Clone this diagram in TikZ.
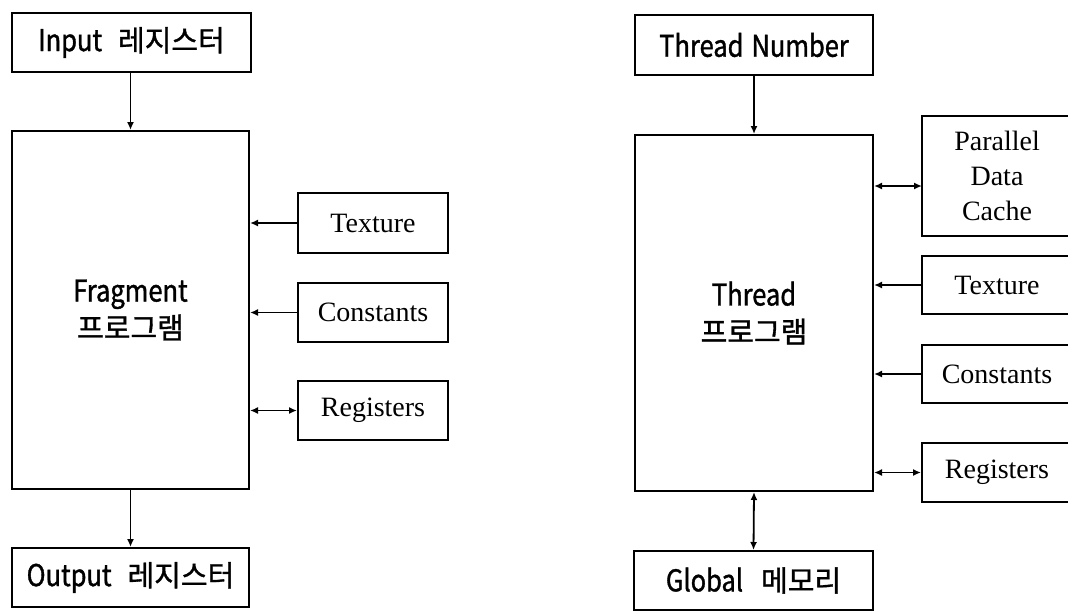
\documentclass[tikz,border=0pt]{standalone}
\usepackage{fontspec}
\setmainfont{Liberation Serif}
\newfontfamily\krfont[FakeBold=1.2]{Noto Sans CJK KR}
\newfontfamily\latfont[FakeStretch=0.85,FakeBold=1.2]{Noto Sans CJK KR}
\newcommand\kor[1]{{\krfont\fontsize{29}{37}\selectfont #1}}
\newcommand\lat[1]{{\latfont\fontsize{30}{37}\selectfont #1}}
\usetikzlibrary{arrows.meta}
\begin{document}
\begin{tikzpicture}[x=1pt,y=-1pt,
  box/.style={draw,line width=2pt,inner sep=0pt,align=center,
    font=\fontsize{28}{35}\selectfont},
  krbox/.style={box,font=\fontsize{29}{37}\selectfont},
  arr/.style={line width=1.8pt,-{Latex[length=8pt,width=7pt]}},
  darr/.style={line width=1.8pt,{Latex[length=8pt,width=7pt]}-{Latex[length=8pt,width=7pt]}}]
\useasboundingbox (0,0) rectangle (1068,611);
\clip (0,0) rectangle (1068,611);
% left
\node[krbox,minimum width=239pt,minimum height=59pt] (inp) at (131.5,42.5) {\lat{Input}\hspace{16pt}\kor{레지스터}};
\node[krbox,minimum width=237pt,minimum height=358pt] (frag) at (130.5,310) {\lat{Fragment}\\\kor{프로그램}};
\node[krbox,minimum width=237pt,minimum height=59pt] (out) at (130.5,577.5) {\lat{Output}\hspace{16pt}\kor{레지스터}};
\node[box,minimum width=150pt,minimum height=60pt] (texL) at (373,223) {Texture};
\node[box,minimum width=150pt,minimum height=59pt] (conL) at (373,312.5) {Constants};
\node[box,minimum width=150pt,minimum height=59pt] (regL) at (373,410.5) {Registers};
\draw[arr] (inp.south -| frag.north) -- (frag.north);
\draw[arr] (frag.south) -- (out.north);
\draw[arr] (texL.west) -- (frag.east |- texL.west);
\draw[arr] (conL.west) -- (frag.east |- conL.west);
\draw[darr] (frag.east |- regL.west) -- (regL.west);
% right
\node[krbox,minimum width=238pt,minimum height=60pt] (tn) at (754,45) {\lat{Thread\hspace{8pt}Number}};
\node[krbox,minimum width=238pt,minimum height=356pt] (thr) at (754,313) {\lat{Thread}\\\kor{프로그램}};
\node[krbox,minimum width=239pt,minimum height=59pt] (glob) at (753.5,580.5) {\lat{Global}\hspace{18pt}\kor{메모리}};
\node[box,minimum width=150pt,minimum height=120pt] (pdc) at (997,176) {Parallel\\Data\\Cache};
\node[box,minimum width=150pt,minimum height=58pt] (texR) at (997,285) {Texture};
\node[box,minimum width=150pt,minimum height=58pt] (conR) at (997,374) {Constants};
\node[box,minimum width=150pt,minimum height=59pt] (regR) at (997,472.5) {Registers};
\coordinate (pdcA) at (922,186);
\draw[arr] (tn.south) -- (thr.north);
\draw[darr] (thr.south) -- (glob.north);
\draw[darr] (thr.east |- pdcA) -- (pdcA);
\draw[arr] (texR.west) -- (thr.east |- texR.west);
\draw[arr] (conR.west) -- (thr.east |- conR.west);
\draw[darr] (thr.east |- regR.west) -- (regR.west);
\end{tikzpicture}
\end{document}
